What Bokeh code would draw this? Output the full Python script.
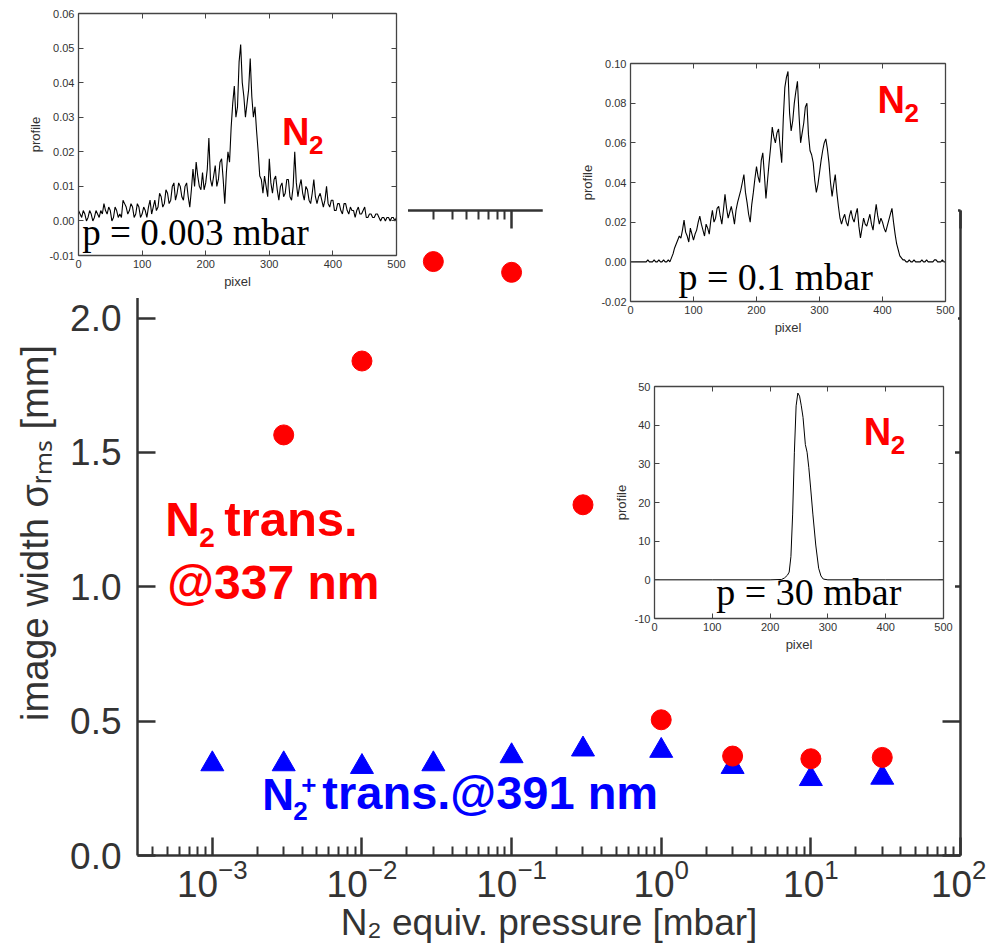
from bokeh.plotting import figure
from bokeh.models import (FixedTicker, LogAxis, LinearAxis, PrintfTickFormatter,
                          GridBox, Range1d, Column)
from bokeh.core.properties import value
from bokeh.embed import file_html
from bokeh.resources import INLINE

# ---------------- main chart data ----------------
pressure_n2 = [0.003, 0.01, 0.03, 0.1, 0.3, 1, 3, 10, 30]
width_n2 = [1.565, 1.84, 2.21, 2.17, 1.305, 0.505, 0.37, 0.36, 0.365]
pressure_n2p = [0.001, 0.003, 0.01, 0.03, 0.1, 0.3, 1, 3, 10, 30]
width_n2p = [0.34, 0.34, 0.33, 0.34, 0.37, 0.395, 0.39, 0.33, 0.285, 0.29]

x_major = [1e-3, 1e-2, 1e-1, 1e0, 1e1, 1e2]
x_minor = [m * 10.0 ** e for e in range(-4, 2) for m in range(2, 10)]
y_major = [0.0, 0.5, 1.0, 1.5, 2.0]

# ---------------- inset profiles (pixel step 2.5) ----------------
pix_1 = [i * 2.5 for i in range(201)]
prof_1 = [0.003, 0.002, 0.001, 0.003, 0.002, 0.000, 0.001, 0.003, 0.002, 0.000,
          0.001, 0.003, 0.002, 0.001, 0.003, 0.002, 0.005, 0.003, 0.002, 0.004,
          0.003, 0.000, 0.001, 0.004, 0.003, 0.001, 0.002, 0.001, 0.006, 0.005,
          0.004, 0.002, 0.003, 0.005, 0.004, 0.001, 0.002, 0.005, 0.004, 0.001,
          0.002, 0.004, 0.003, 0.001, 0.004, 0.006, 0.002, 0.004, 0.006, 0.003,
          0.004, 0.008, 0.007, 0.004, 0.005, 0.009, 0.008, 0.005, 0.006, 0.010,
          0.011, 0.006, 0.008, 0.011, 0.010, 0.007, 0.006, 0.010, 0.011, 0.007,
          0.004, 0.009, 0.015, 0.010, 0.017, 0.013, 0.010, 0.009, 0.014, 0.009,
          0.011, 0.015, 0.024, 0.012, 0.010, 0.013, 0.016, 0.010, 0.012, 0.017,
          0.018, 0.012, 0.005, 0.014, 0.020, 0.017, 0.027, 0.034, 0.039, 0.030,
          0.033, 0.046, 0.051, 0.040, 0.036, 0.030, 0.034, 0.038, 0.047, 0.036,
          0.030, 0.033, 0.026, 0.020, 0.013, 0.012, 0.008, 0.013, 0.010, 0.007,
          0.018, 0.011, 0.008, 0.012, 0.013, 0.009, 0.006, 0.010, 0.011, 0.007,
          0.008, 0.012, 0.012, 0.007, 0.006, 0.010, 0.020, 0.011, 0.007, 0.010,
          0.012, 0.008, 0.006, 0.010, 0.009, 0.006, 0.005, 0.008, 0.012, 0.007,
          0.005, 0.007, 0.008, 0.006, 0.004, 0.006, 0.010, 0.005, 0.004, 0.006,
          0.006, 0.003, 0.003, 0.005, 0.005, 0.003, 0.002, 0.005, 0.005, 0.003,
          0.002, 0.004, 0.003, 0.003, 0.001, 0.003, 0.004, 0.002, 0.002, 0.003,
          0.004, 0.001, 0.001, 0.002, 0.002, 0.001, 0.001, 0.002, 0.002, 0.001,
          0.000, 0.001, 0.001, 0.000, 0.001, 0.001, 0.000, 0.001, 0.001, 0.000,
          0.001]

pix_2 = [i * 2.5 for i in range(201)]
prof_2 = [0.000, 0.000, 0.000, 0.000, 0.000, 0.000, 0.000, 0.000, 0.000, 0.000,
          0.000, 0.001, 0.000, 0.000, 0.000, 0.001, 0.000, 0.000, 0.001, 0.000,
          0.000, 0.001, 0.000, 0.000, 0.001, 0.000, 0.002, 0.004, 0.007, 0.009,
          0.011, 0.013, 0.012, 0.016, 0.021, 0.015, 0.013, 0.010, 0.017, 0.014,
          0.011, 0.014, 0.016, 0.020, 0.023, 0.019, 0.016, 0.013, 0.019, 0.017,
          0.014, 0.021, 0.026, 0.020, 0.022, 0.027, 0.028, 0.023, 0.019, 0.026,
          0.034, 0.027, 0.022, 0.025, 0.028, 0.024, 0.019, 0.026, 0.030, 0.033,
          0.036, 0.040, 0.044, 0.035, 0.030, 0.024, 0.020, 0.029, 0.035, 0.042,
          0.048, 0.043, 0.040, 0.051, 0.055, 0.044, 0.032, 0.041, 0.050, 0.058,
          0.068, 0.063, 0.060, 0.065, 0.067, 0.058, 0.050, 0.072, 0.088, 0.093,
          0.096, 0.075, 0.066, 0.071, 0.080, 0.086, 0.091, 0.074, 0.060, 0.065,
          0.070, 0.078, 0.080, 0.064, 0.056, 0.054, 0.050, 0.041, 0.035, 0.039,
          0.045, 0.051, 0.056, 0.060, 0.062, 0.057, 0.050, 0.040, 0.033, 0.039,
          0.044, 0.035, 0.028, 0.022, 0.019, 0.022, 0.024, 0.020, 0.018, 0.023,
          0.026, 0.022, 0.020, 0.024, 0.027, 0.018, 0.012, 0.017, 0.022, 0.019,
          0.018, 0.021, 0.024, 0.019, 0.016, 0.023, 0.029, 0.023, 0.019, 0.022,
          0.020, 0.017, 0.015, 0.018, 0.021, 0.024, 0.027, 0.020, 0.014, 0.009,
          0.006, 0.003, 0.002, 0.001, 0.001, 0.000, 0.000, 0.001, 0.000, 0.000,
          0.001, 0.000, 0.000, 0.000, 0.000, 0.001, 0.000, 0.000, 0.001, 0.000,
          0.000, 0.000, 0.000, 0.001, 0.001, 0.000, 0.000, 0.000, 0.001, 0.000,
          0.000]

pix_3 = [0, 100, 200, 220, 225, 230, 233, 236, 239, 242, 245, 248, 251, 254,
         257, 261, 264, 267, 270, 274, 279, 284, 288, 292, 300, 400, 500]
prof_3 = [0, 0, 0, 0.1, 0.5, 1.2, 2.0, 6.0, 17.0, 33.0, 45.0, 48.3, 47.5, 45.0,
          42.0, 35.0, 33.0, 29.0, 24.0, 17.0, 9.0, 3.0, 1.0, 0.2, 0, 0, 0]

pix_ticks = [0, 100, 200, 300, 400, 500]
ticks_1 = [-0.01, 0.0, 0.01, 0.02, 0.03, 0.04, 0.05, 0.06]
ticks_2 = [-0.02, 0.0, 0.02, 0.04, 0.06, 0.08, 0.10]
ticks_3 = [-10, 0, 10, 20, 30, 40, 50]

AX = "#333333"
SANS = "Liberation Sans"
SERIF = "Liberation Serif"
RED = "#ff0000"
BLUE = "#0000ff"

# ---------------- main figure ----------------
main = figure(width=986, height=947, x_axis_type="log",
              x_range=Range1d(10 ** -3.5, 100), y_range=Range1d(0, 2.4),
              output_backend="svg", toolbar_location=None,
              min_border_left=137, min_border_right=26,
              min_border_top=210, min_border_bottom=92,
              outline_line_color=None,
              background_fill_color="white", border_fill_color="white")
main.grid.visible = False

xt = FixedTicker(ticks=x_major, minor_ticks=x_minor)
yt = FixedTicker(ticks=y_major, minor_ticks=[])


def style_main(a):
    a.axis_line_color = AX
    a.axis_line_width = 2.5
    a.major_tick_line_color = AX
    a.major_tick_line_width = 2.5
    a.major_tick_in = 18
    a.major_tick_out = 0
    a.minor_tick_line_color = AX
    a.minor_tick_line_width = 2
    a.minor_tick_in = 9
    a.minor_tick_out = 0
    a.major_label_text_font = SANS
    a.major_label_text_color = AX
    a.axis_label_text_font = SANS
    a.axis_label_text_color = AX
    a.axis_label_text_font_style = "normal"


def hide_labels(a):
    a.major_label_text_font_size = "1px"
    a.major_label_text_alpha = 0
    a.major_label_standoff = 0


xa = main.xaxis[0]
xa.ticker = xt
style_main(xa)
xa.major_label_text_font_size = "37px"
xa.major_label_standoff = 3
xa.axis_label = "N₂ equiv. pressure [mbar]"
xa.axis_label_text_font_size = "37px"
xa.axis_label_standoff = 2

ya = main.yaxis[0]
ya.ticker = yt
ya.formatter = PrintfTickFormatter(format="%.1f")
style_main(ya)
ya.major_label_text_font_size = "37px"
ya.major_label_standoff = 16
ya.axis_label = "image width σᵣₘₛ [mm]"
ya.axis_label_text_font_size = "38px"
ya.axis_label_standoff = 11

top = LogAxis(ticker=xt)
style_main(top)
hide_labels(top)
main.add_layout(top, "above")
right = LinearAxis(ticker=yt)
style_main(right)
hide_labels(right)
main.add_layout(right, "right")

main.scatter(pressure_n2p, width_n2p, marker="triangle", size=23,
             fill_color=BLUE, line_color=BLUE)
main.scatter(pressure_n2, width_n2, marker="circle", size=20,
             fill_color=RED, line_color=RED)


def txt(fig, x, y, s, size, color, font=SANS, style="bold", dx=0, dy=0):
    # shift so that (x, y) is the alphabetic baseline of the text
    fig.text(x=[x], y=[y], text=[s], text_font=value(font),
             text_font_size=value(f"{size}px"), text_font_style=style,
             text_color=color, text_baseline="alphabetic", text_align="left",
             x_offset=dx, y_offset=dy - 0.42 * size)


# red annotation
txt(main, 4.85e-4, 1.175, "N", 48, RED)
txt(main, 4.85e-4, 1.175, "2", 28, RED, dx=34, dy=10)
txt(main, 4.85e-4, 1.175, "trans.", 49, RED, dx=59)
txt(main, 5.0e-4, 0.94, "@337 nm", 48, RED)
# blue annotation
txt(main, 2.16e-3, 0.16, "N", 44, BLUE)
txt(main, 2.16e-3, 0.16, "2", 26, BLUE, dx=31, dy=9)
txt(main, 2.16e-3, 0.16, "+", 26, BLUE, dx=39, dy=-17)
txt(main, 2.16e-3, 0.16, "trans.@391 nm", 47, BLUE, dx=60)


# ---------------- insets ----------------
IAX = "#444444"


def inset(xs, ys, yr, yticks, yfmt, width, height, bl, bt, br, bb, lw):
    f = figure(width=width, height=height, x_range=Range1d(0, 500),
               y_range=Range1d(*yr), output_backend="svg",
               toolbar_location=None, min_border_left=bl, min_border_top=bt,
               min_border_right=br, min_border_bottom=bb,
               outline_line_color=None,
               background_fill_color="white", border_fill_color="white")
    f.grid.visible = False
    xtk = FixedTicker(ticks=pix_ticks, minor_ticks=[])
    ytk = FixedTicker(ticks=yticks, minor_ticks=[])
    f.xaxis.ticker = xtk
    f.yaxis.ticker = ytk
    f.yaxis.formatter = PrintfTickFormatter(format=yfmt)
    f.xaxis.axis_label = "pixel"
    f.yaxis.axis_label = "profile"
    extra = [LinearAxis(ticker=xtk), LinearAxis(ticker=ytk)]
    for a in [f.xaxis[0], f.yaxis[0]] + extra:
        a.axis_line_color = IAX
        a.axis_line_width = 1.3
        a.major_tick_line_color = IAX
        a.major_tick_in = 5
        a.major_tick_out = 0
        a.minor_tick_line_color = None
        a.major_label_text_font = SANS
        a.major_label_text_font_size = "11px"
        a.major_label_text_color = AX
        a.major_label_standoff = 4
        a.axis_label_text_font = SANS
        a.axis_label_text_font_size = "13px"
        a.axis_label_text_font_style = "normal"
        a.axis_label_text_color = AX
        a.axis_label_standoff = 3
    for a in extra:
        hide_labels(a)
    f.add_layout(extra[0], "above")
    f.add_layout(extra[1], "right")
    f.line(xs, ys, line_color="black", line_width=lw)
    return f


in1 = inset(pix_1, prof_1, (-0.01, 0.06), ticks_1, "%.2f", 386, 298, 56, 13, 12, 43, 1.1)
txt(in1, 6, -0.0078, "p = 0.003 mbar", 37, "black", font=SERIF, style="normal")
txt(in1, 320, 0.0211, "N", 38, RED)
txt(in1, 320, 0.0211, "2", 26, RED, dx=27, dy=8)

in2 = inset(pix_2, prof_2, (-0.02, 0.10), ticks_2, "%.2f", 416, 292, 88, 15, 13, 39, 1.1)
txt(in2, 76, -0.0155, "p = 0.1 mbar", 38, "black", font=SERIF, style="normal")
txt(in2, 392, 0.0738, "N", 38, RED)
txt(in2, 392, 0.0738, "2", 26, RED, dx=27, dy=8)

in3 = inset(pix_3, prof_3, (-10, 50), ticks_3, "%d", 345, 284, 40, 10, 12, 42, 1.0)
txt(in3, 107, -7.2, "p = 30 mbar", 38, "black", font=SERIF, style="normal")
txt(in3, 362, 34, "N", 38, RED)
txt(in3, 362, 34, "2", 26, RED, dx=27, dy=8)

c_main = Column(children=[main])
c1 = Column(children=[in1], margin=(0, 0, 0, 22))
c2 = Column(children=[in2], margin=(48, 0, 0, 542))
c3 = Column(children=[in3], margin=(376, 0, 0, 610))

layout = GridBox(children=[(c_main, 0, 0), (c1, 0, 0), (c2, 0, 0), (c3, 0, 0)])

open("out.html", "w").write(file_html(layout, INLINE))
